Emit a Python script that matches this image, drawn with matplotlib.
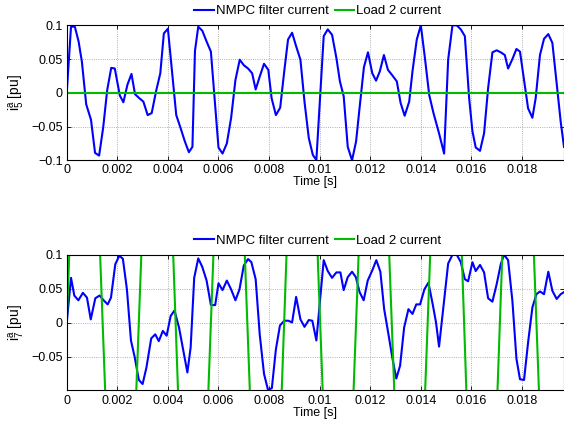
import numpy as np
import matplotlib
matplotlib.use('Agg')
import matplotlib.pyplot as plt
import matplotlib.ticker as mtick

plt.rcParams['font.family'] = ['Liberation Sans', 'DejaVu Sans']
plt.rcParams['mathtext.default'] = 'regular'
plt.rcParams['axes.unicode_minus'] = True

# 5th harmonic, phase a
t5 = [0, 0.00017, 0.00032, 0.00047, 0.0006, 0.00077, 0.00096, 0.00112, 0.00128, 0.00144,
      0.0016, 0.00176, 0.0019, 0.0021, 0.00224, 0.0024, 0.00256, 0.0027, 0.00287, 0.00303,
      0.0032, 0.00336, 0.00353, 0.0037, 0.00384, 0.004, 0.00433, 0.0045, 0.00467, 0.00483,
      0.00497, 0.00507, 0.0052, 0.00536, 0.00553, 0.0057, 0.006, 0.00616, 0.00633, 0.0065,
      0.00667, 0.00684, 0.007, 0.00717, 0.00733, 0.00747, 0.00763, 0.0078, 0.00797, 0.0081,
      0.00827, 0.00844, 0.0086, 0.00875, 0.00891, 0.00907, 0.00924, 0.0094, 0.00957, 0.00973,
      0.00987, 0.01016, 0.01032, 0.01049, 0.01066, 0.0108, 0.01095, 0.01111, 0.01128, 0.01144,
      0.01159, 0.01175, 0.01191, 0.01208, 0.01223, 0.01238, 0.01254, 0.0127, 0.01287, 0.01305,
      0.0132, 0.01336, 0.01354, 0.01367, 0.01384, 0.014, 0.01417, 0.01433, 0.0145, 0.01472,
      0.01492, 0.01508, 0.01525, 0.01542, 0.01558, 0.01574, 0.01591, 0.01604, 0.01617, 0.01634,
      0.0165, 0.01666, 0.01683, 0.017, 0.01716, 0.01732, 0.01745, 0.01762, 0.01778, 0.01792,
      0.01808, 0.01824, 0.01841, 0.01854, 0.01871, 0.01887, 0.01904, 0.0192, 0.01937, 0.01953,
      0.01966]
nmpc5 = [0, 0.098, 0.098, 0.076, 0.046, -0.017, -0.040, -0.089, -0.093, -0.052,
         0.004, 0.037, 0.036, -0.004, -0.014, 0.012, 0.028, -0.002, -0.008, -0.013,
         -0.033, -0.030, 0.002, 0.029, 0.088, 0.095, -0.033, -0.052, -0.072, -0.088,
         -0.080, 0.062, 0.098, 0.092, 0.076, 0.061, -0.081, -0.090, -0.075, -0.037,
         0.019, 0.049, 0.041, 0.036, 0.029, 0.005, 0.024, 0.043, 0.034, -0.008,
         -0.033, -0.022, 0.032, 0.079, 0.089, 0.069, 0.049, -0.013, -0.067, -0.092,
         -0.0995, 0.084, 0.094, 0.086, 0.052, 0.017, -0.005, -0.080, -0.100, -0.072,
         -0.018, 0.038, 0.060, 0.029, 0.018, 0.032, 0.056, 0.034, 0.026, 0.017,
         -0.015, -0.034, -0.013, 0.032, 0.079, 0.100, 0.049, -0.003, -0.030, -0.060,
         -0.090, 0.049, 0.100, 0.100, 0.094, 0.084, -0.008, -0.057, -0.081, -0.086,
         -0.060, 0.007, 0.060, 0.063, 0.060, 0.056, 0.036, 0.050, 0.065, 0.061,
         0.019, -0.023, -0.037, -0.008, 0.056, 0.080, 0.087, 0.074, 0.014, -0.043,
         -0.080]
load5_t = [0, 0.01966]
load5 = [0, 0]

# 7th harmonic, phase a
t7 = [0, 0.00017, 0.0003, 0.00046, 0.00064, 0.0008, 0.00095, 0.00113, 0.0013, 0.00146,
      0.00162, 0.00175, 0.00192, 0.00208, 0.00222, 0.00238, 0.00254, 0.00269, 0.00285, 0.003,
      0.00315, 0.00334, 0.0035, 0.00364, 0.0038, 0.00395, 0.00411, 0.00426, 0.00444, 0.00461,
      0.00477, 0.0049, 0.00504, 0.0052, 0.00536, 0.00553, 0.0057, 0.00587, 0.006, 0.00616,
      0.00633, 0.0065, 0.00667, 0.00683, 0.007, 0.00717, 0.0073, 0.00747, 0.00763, 0.0078,
      0.00796, 0.00811, 0.00827, 0.00843, 0.0086, 0.00876, 0.00891, 0.00907, 0.00924, 0.0094,
      0.00957, 0.00971, 0.00987, 0.01016, 0.01032, 0.01049, 0.01066, 0.01082, 0.01095, 0.01111,
      0.01128, 0.01143, 0.01158, 0.01174, 0.0119, 0.01207, 0.01224, 0.0124, 0.01255, 0.01272,
      0.01288, 0.01303, 0.01318, 0.01334, 0.01351, 0.01367, 0.01382, 0.01397, 0.01414, 0.0143,
      0.01447, 0.0146, 0.01472, 0.01489, 0.01508, 0.01525, 0.01542, 0.01558, 0.01574, 0.01587,
      0.01604, 0.01617, 0.01634, 0.0165, 0.01666, 0.01683, 0.017, 0.01716, 0.01729, 0.01745,
      0.01762, 0.01778, 0.01792, 0.01808, 0.01824, 0.01841, 0.01857, 0.01871, 0.01887, 0.01904,
      0.0192, 0.01937, 0.01953, 0.01966]
nmpc7 = [0, 0.066, 0.040, 0.033, 0.044, 0.037, 0.005, 0.036, 0.040, 0.033,
         0.027, 0.037, 0.086, 0.0985, 0.094, 0.049, -0.026, -0.051, -0.084, -0.090,
         -0.066, -0.023, -0.017, -0.027, -0.012, -0.019, 0.010, 0.018, -0.007, -0.041,
         -0.073, -0.036, 0.066, 0.0946, 0.082, 0.062, 0.026, 0.026, 0.058, 0.048,
         0.062, 0.049, 0.033, 0.049, 0.084, 0.0936, 0.089, 0.064, -0.017, -0.075,
         -0.099, -0.096, -0.039, -0.004, 0.003, 0.003, 0.0005, 0.038, 0.005, -0.006,
         0.004, 0.003, -0.026, 0.092, 0.076, 0.066, 0.074, 0.074, 0.048, 0.067,
         0.075, 0.067, 0.045, 0.033, 0.062, 0.076, 0.092, 0.075, 0.020, -0.017,
         -0.053, -0.082, -0.063, -0.007, 0.020, 0.013, 0.027, 0.027, 0.049, 0.059,
         0.027, 0.0005, -0.035, 0.0225, 0.087, 0.100, 0.100, 0.089, 0.064, 0.061,
         0.089, 0.076, 0.085, 0.074, 0.036, 0.031, 0.057, 0.086, 0.100, 0.092,
         0.032, -0.053, -0.083, -0.084, -0.029, 0.0225, 0.042, 0.046, 0.042, 0.075,
         0.047, 0.035, 0.042, 0.045]
# load current runs far outside the window, only the crossings are seen
load7_t = [0, 0.0001, 0.0007, 0.00132, 0.00152, 0.0021, 0.00275, 0.00295, 0.0036, 0.00421,
           0.0044, 0.005, 0.0056, 0.0058, 0.0064, 0.00704, 0.00724, 0.0079, 0.0085, 0.00869,
           0.0093, 0.00992, 0.01012, 0.0107, 0.01134, 0.01154, 0.0122, 0.01275, 0.01295, 0.0136,
           0.01417, 0.01437, 0.015, 0.01562, 0.0158, 0.0164, 0.01703, 0.01722, 0.0179, 0.01847,
           0.01867, 0.0193, 0.01966]
load7 = [0, 0.1, 0.45, 0.1, -0.1, -0.45, -0.1, 0.1, 0.45, 0.1,
         -0.1, -0.45, -0.1, 0.1, 0.45, 0.1, -0.1, -0.45, -0.1, 0.1,
         0.45, 0.1, -0.1, -0.45, -0.1, 0.1, 0.45, 0.1, -0.1, -0.45,
         -0.1, 0.1, 0.45, 0.1, -0.1, -0.45, -0.1, 0.1, 0.45, 0.1,
         -0.1, -0.45, -0.3]

xticks = [0, 0.002, 0.004, 0.006, 0.008, 0.01, 0.012, 0.014, 0.016, 0.018]

fig = plt.figure(figsize=(5.64, 4.25), dpi=100)
ax1 = fig.add_axes([0.1183, 0.6228, 0.8817, 0.3176])
ax2 = fig.add_axes([0.1183, 0.0812, 0.8817, 0.3195])

paineis = [
    (ax1, t5, nmpc5, load5_t, load5, r'$i^a_5$ [pu]', (-0.1, 0.1), [-0.1, -0.05, 0, 0.05, 0.1]),
    (ax2, t7, nmpc7, load7_t, load7, r'$i^a_7$ [pu]', (-0.0995, 0.1), [-0.05, 0, 0.05, 0.1]),
]

for ax, t, nmpc, tl, load, rotulo, ylim, yticks in paineis:
    ax.plot(t, nmpc, color='#0000ff', lw=1.5, label='NMPC filter current')
    ax.plot(tl, load, color='#00bb00', lw=1.5, label='Load 2 current')
    ax.set_xlim(0, 0.01966)
    ax.set_ylim(*ylim)
    ax.set_xticks(xticks)
    ax.set_yticks(yticks)
    ax.xaxis.set_major_formatter(mtick.FormatStrFormatter('%g'))
    ax.yaxis.set_major_formatter(mtick.FuncFormatter(lambda v, p: ('%g' % v).replace('-', '\u2212')))
    ax.tick_params(direction='in', length=3, width=0.6, top=True, right=True, labelsize=9, pad=3)
    ax.grid(True, linestyle=':', color='#999999', lw=0.6)
    for s in ax.spines.values():
        s.set_linewidth(0.8)
    ax.set_xlabel('Time [s]', fontsize=9, labelpad=0)
    ax.set_ylabel(rotulo, fontsize=10, labelpad=3)
    ax.legend(loc='center', bbox_to_anchor=(0.505, 1.105), ncol=2, frameon=False,
              fontsize=9.5, handlelength=1.45, handletextpad=0.15, columnspacing=0.5,
              borderaxespad=0, borderpad=0)

fig.savefig('out.png', dpi=100)
